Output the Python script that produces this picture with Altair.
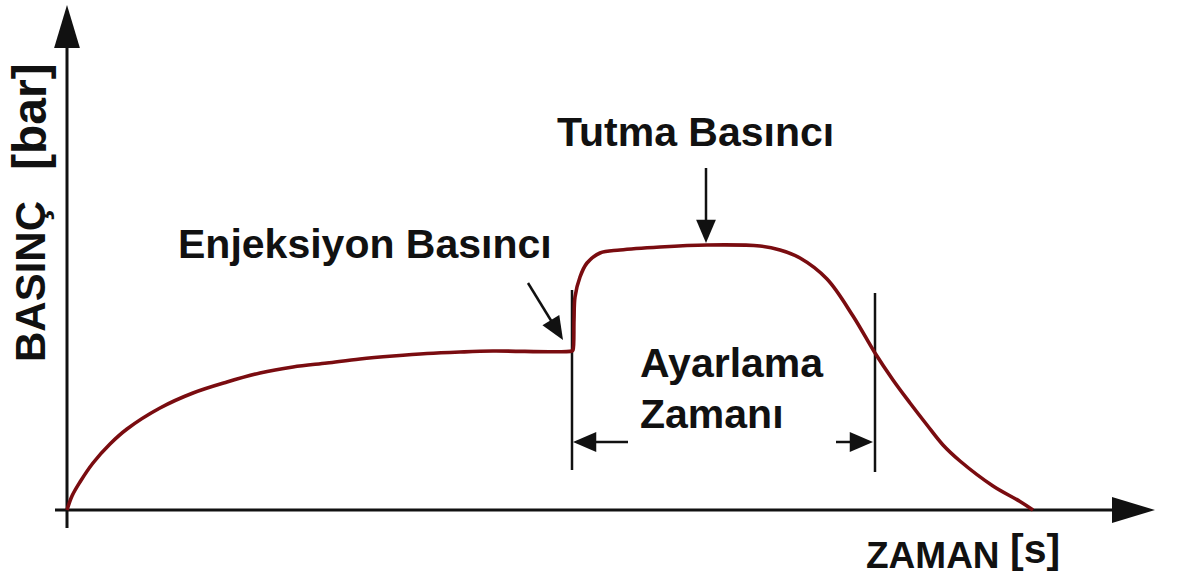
import altair as alt
import pandas as pd

# Pressure profile of one injection-moulding cycle (schematic units)
time_s = [0.00, 0.05, 0.13, 0.26, 0.43, 0.60, 0.93, 1.26, 1.60, 1.93, 2.26, 2.60,
          2.93, 3.26, 3.60, 3.93, 4.26, 5.05,
          5.06, 5.07, 5.08, 5.13, 5.20, 5.33, 5.53, 5.93, 6.40, 6.93, 7.13, 7.33,
          7.60, 7.86, 8.08, 8.26, 8.43, 8.60, 8.76, 8.93, 9.26, 9.53, 9.66]
pressure_bar = [0.0, 5.6, 11.2, 18.8, 26.4, 32.4, 40.8, 46.8, 51.2, 54.8, 57.2, 58.8,
                60.4, 61.6, 62.6, 63.2, 63.6, 63.6,
                64.0, 76.0, 85.2, 93.2, 98.8, 102.8, 104.0, 105.2, 106.0, 105.6, 104.0, 100.8,
                92.4, 77.6, 62.8, 52.0, 42.8, 34.0, 26.0, 19.6, 9.6, 3.4, 0.0]

# Straight line segments: axes, setting-time limits, pointer shafts
seg_x0 = [0.00, -0.12, 5.05, 8.08, 4.61, 6.39, 5.18, 7.69]
seg_x1 = [0.00, 10.53, 5.05, 8.08, 4.88, 6.39, 5.61, 7.95]
seg_y0 = [-7.2, 0.0, 88.0, 86.8, 90.8, 136.8, 27.2, 27.2]
seg_y1 = [196.0, 0.0, 16.0, 15.2, 73.2, 112.0, 27.2, 27.2]
seg_w = [3.0, 3.0, 2.5, 2.5, 2.5, 2.5, 2.5, 2.5]

# Arrow heads: axis ends
axis_head_t = [0.00, 10.88]
axis_head_p = [202.0, 0.0]
axis_head_angle = [0, 90]
# Arrow heads: pointers and setting-time dimension
head_t = [4.96, 6.39, 5.06, 8.06]
head_p = [68.0, 106.8, 27.2, 27.2]
head_angle = [148.5, 180, 270, 90]

# Labels
bold_text = ["Enjeksiyon Basıncı", "Tutma Basıncı", "Ayarlama", "Zamanı"]
bold_t = [1.11, 4.90, 5.73, 5.73]
bold_p = [100.8, 145.6, 53.2, 32.8]

xs = alt.Scale(domain=[-0.67, 11.11], nice=False, zero=False)
ys = alt.Scale(domain=[-26.4, 204.0], nice=False, zero=False)
FONT = "Liberation Sans"
INK = "#111111"


def X(f):
    return alt.X(f, type="quantitative", scale=xs, axis=None)


def Y(f):
    return alt.Y(f, type="quantitative", scale=ys, axis=None)


curve_df = pd.DataFrame({"t": time_s, "p": pressure_bar, "i": range(len(time_s))})
seg_df = pd.DataFrame({"x0": seg_x0, "x1": seg_x1, "y0": seg_y0, "y1": seg_y1, "w": seg_w})
axis_head_df = pd.DataFrame({"t": axis_head_t, "p": axis_head_p, "a": axis_head_angle})
head_df = pd.DataFrame({"t": head_t, "p": head_p, "a": head_angle})
bold_df = pd.DataFrame({"txt": bold_text, "t": bold_t, "p": bold_p})

segments = alt.Chart(seg_df).mark_rule(color=INK, strokeCap="butt").encode(
    x=X("x0"), x2="x1", y=Y("y0"), y2="y1",
    strokeWidth=alt.StrokeWidth("w:Q", scale=None),
)

axis_heads = alt.Chart(axis_head_df).mark_point(
    shape="M0,0L-0.6,2L0.6,2Z", filled=True, color=INK, opacity=1, size=1850
).encode(x=X("t"), y=Y("p"), angle=alt.Angle("a:Q", scale=None))

heads = alt.Chart(head_df).mark_point(
    shape="M0,0L-0.85,2L0.85,2Z", filled=True, color=INK, opacity=1, size=540
).encode(x=X("t"), y=Y("p"), angle=alt.Angle("a:Q", scale=None))

curve = alt.Chart(curve_df).mark_line(
    color="#7a0c10", strokeWidth=3.6, interpolate="catmull-rom"
).encode(x=X("t"), y=Y("p"), order="i:Q")

labels = alt.Chart(bold_df).mark_text(
    font=FONT, fontSize=41, fontWeight="bold", align="left", baseline="alphabetic", color=INK
).encode(x=X("t"), y=Y("p"), text="txt:N")

# Axis titles
y_title = alt.Chart(pd.DataFrame({"txt": ["BASINÇ"], "t": [-0.22], "p": [59.2]})).mark_text(
    font=FONT, fontSize=42, fontWeight="bold", angle=270, align="left",
    baseline="alphabetic", color=INK
).encode(x=X("t"), y=Y("p"), text="txt:N")

y_unit = alt.Chart(pd.DataFrame({"txt": ["[bar]"], "t": [-0.21], "p": [136.0]})).mark_text(
    font=FONT, fontSize=48, fontWeight="bold", angle=270, align="left",
    baseline="alphabetic", color=INK
).encode(x=X("t"), y=Y("p"), text="txt:N")

x_title = alt.Chart(pd.DataFrame({"txt": ["ZAMAN"], "t": [7.99], "p": [-23.2]})).mark_text(
    font=FONT, fontSize=37, fontWeight="bold", align="left", baseline="alphabetic", color=INK
).encode(x=X("t"), y=Y("p"), text="txt:N")

x_unit = alt.Chart(pd.DataFrame({"txt": ["[s]"], "t": [9.43], "p": [-21.2]})).mark_text(
    font=FONT, fontSize=41, fontWeight="bold", align="left", baseline="alphabetic", color=INK
).encode(x=X("t"), y=Y("p"), text="txt:N")

chart = alt.layer(
    segments, axis_heads, heads, curve, labels, y_title, y_unit, x_title, x_unit
).properties(
    width=1178, height=576, padding=0, background="white",
    autosize=alt.AutoSizeParams(type="none"),
).configure_view(stroke=None)

chart.save("out.html", embed_options={"renderer": "svg", "actions": False})
